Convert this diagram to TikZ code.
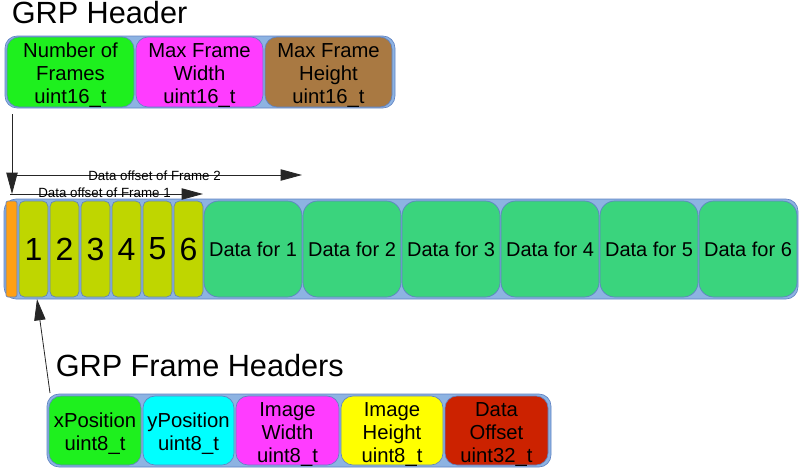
\documentclass[tikz,border=0pt]{standalone}
\usepackage{fontspec}
\setmainfont{Liberation Sans}
\usetikzlibrary{arrows.meta}
\definecolor{contblue}{RGB}{141,179,226}
\definecolor{boxedge}{RGB}{95,130,195}
\definecolor{hgreen}{RGB}{30,240,30}
\definecolor{hmagenta}{RGB}{255,60,255}
\definecolor{hbrown}{RGB}{169,121,66}
\definecolor{forange}{RGB}{255,160,20}
\definecolor{folive}{RGB}{191,214,0}
\definecolor{dgreen}{RGB}{58,212,125}
\definecolor{hcyan}{RGB}{0,255,255}
\definecolor{hyellow}{RGB}{255,255,0}
\definecolor{hred}{RGB}{204,34,0}
\newcommand{\fieldlines}[1]{\smash{\raisebox{-6.8pt}{\begin{tabular}{@{}c@{}}#1\end{tabular}}}}
\begin{document}
\begin{tikzpicture}[x=0.75pt,y=-0.75pt,
  container/.style={draw=boxedge, fill=contblue, line width=0.5pt, rounded corners=9pt, inner sep=0pt},
  fieldbox/.style={draw=boxedge, line width=0.5pt, rounded corners=9pt, inner sep=0pt, align=center,
    font=\fontsize{15.2}{17.25}\selectfont},
  hdrbox/.style={fieldbox, minimum width=95.25pt, minimum height=52.5pt},
  numbox/.style={draw=boxedge, line width=0.5pt, rounded corners=4pt, inner sep=0pt, fill=folive,
    minimum width=21.75pt, minimum height=72pt, font=\fontsize{24}{28}\selectfont},
  databox/.style={draw=boxedge, line width=0.5pt, rounded corners=11pt, inner sep=0pt, fill=dgreen,
    minimum width=73.5pt, minimum height=72pt, font=\fontsize{15}{17.25}\selectfont},
  fhbox/.style={fieldbox, minimum height=51.75pt},
  titletext/.style={anchor=base west, inner sep=0pt, font=\fontsize{23}{27}\selectfont},
  conn/.style={draw=black!85, line width=0.6pt, -{Triangle[length=16pt,width=8.5pt]}},
  arrowlabel/.style={inner sep=0pt, font=\fontsize{10}{12}\selectfont}
]
\useasboundingbox (0,0) rectangle (800,469);

% Titles
\node[titletext] (t1) at (11.5,23) {GRP Header};
\node[titletext] (t2) at (55.5,376) {GRP Frame Headers};

% GRP header
\node[container, minimum width=292.5pt, minimum height=54pt] (hdr) at (200,72) {};
\node[hdrbox, fill=hgreen] (nf) at (70.5,72) {\fieldlines{Number of\\Frames\\uint16\_t}};
\node[hdrbox, fill=hmagenta] (mw) at (199.5,72) {\fieldlines{Max Frame\\Width\\uint16\_t}};
\node[hdrbox, fill=hbrown] (mh) at (328.5,72) {\fieldlines{Max Frame\\Height\\uint16\_t}};

% Main bar
\node[container, minimum width=595.5pt, minimum height=75pt] (bar) at (401,249) {};
\node[draw=boxedge, line width=0.5pt, fill=forange, rounded corners=1.5pt, inner sep=0pt,
  minimum width=8.25pt, minimum height=72pt] (hd) at (11.5,249) {};
\node[numbox] (f1) at (33.5,249) {1};
\node[numbox] (f2) at (64.5,249) {2};
\node[numbox] (f3) at (95.5,249) {3};
\node[numbox] (f4) at (126.5,249) {4};
\node[numbox] (f5) at (157.5,249) {5};
\node[numbox] (f6) at (188.5,249) {6};
\node[databox] (d1) at (253,249) {Data for 1};
\node[databox] (d2) at (352,249) {Data for 2};
\node[databox] (d3) at (451,249) {Data for 3};
\node[databox] (d4) at (550,249) {Data for 4};
\node[databox] (d5) at (649,249) {Data for 5};
\node[databox] (d6) at (748,249) {Data for 6};

% Frame headers
\node[container, minimum width=378pt, minimum height=54.75pt] (fh) at (299,430.5) {};
\node[fhbox, fill=hgreen, minimum width=69pt] (xp) at (95,430.5) {\fieldlines{xPosition\\uint8\_t}};
\node[fhbox, fill=hcyan, minimum width=68.25pt] (yp) at (188.5,430.5) {\fieldlines{yPosition\\uint8\_t}};
\node[fhbox, fill=hmagenta, minimum width=77.25pt] (iw) at (287.5,430.5) {\fieldlines{Image\\Width\\uint8\_t}};
\node[fhbox, fill=hyellow, minimum width=76.5pt] (ih) at (392,430.5) {\fieldlines{Image\\Height\\uint8\_t}};
\node[fhbox, fill=hred, minimum width=77.25pt] (do) at (496.5,430.5) {\fieldlines{Data\\Offset\\uint32\_t}};

% Connector end points
\coordinate (vtop) at (12,114);
\coordinate (vtip) at (12,194);
\coordinate (o1s) at (10,194);
\coordinate (o1e) at (203,194);
\coordinate (o2s) at (16,175);
\coordinate (o2e) at (302,175);
\coordinate (bstart) at (50,393);
\coordinate (btip) at (37,299);

% Connectors
\draw[conn] (o2s) -- (o2e);
\draw[conn] (o1s) -- (o1e);
\draw[conn] (vtop) -- (vtip);
\draw[conn] (bstart) -- (btip);

\node[arrowlabel] (l2) at (154.5,176) {Data offset of Frame 2};
\node[arrowlabel] (l1) at (104.5,193) {Data offset of Frame 1};
\end{tikzpicture}
\end{document}
